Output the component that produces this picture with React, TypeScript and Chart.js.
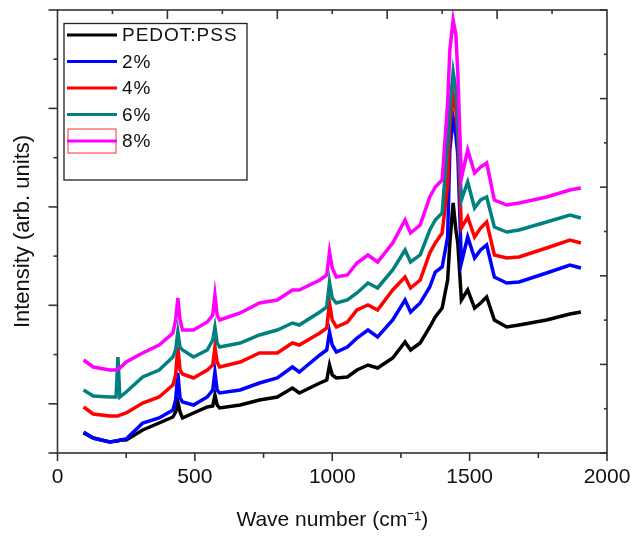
import React, { useEffect, useRef } from 'react';
import { Chart, registerables } from 'chart.js';

Chart.register(...registerables);

// ---- data (intensity in arbitrary units) ----
const WAVENUMBER = [95, 130, 190, 213, 220, 227, 250, 310, 370, 420, 430, 438, 446, 455, 495, 545, 565, 573, 581, 590, 665, 735, 800, 855, 880, 955, 980, 990, 1000, 1015, 1055, 1090, 1130, 1165, 1220, 1265, 1285, 1320, 1355, 1375, 1400, 1420, 1428, 1440, 1450, 1457, 1470, 1493, 1518, 1540, 1562, 1590, 1635, 1680, 1780, 1865, 1905];

const PEDOT_PSS = [20, 15, 11, 12, 12, 13, 13, 23, 30, 36, 41, 51, 41, 35, 40, 46, 47, 58, 48, 45, 48, 53, 56, 65, 60, 70, 73, 88, 78, 75, 76, 83, 88, 85, 95, 111, 103, 110, 126, 136, 145, 173, 210, 250, 223, 210, 153, 163, 145, 150, 156, 133, 126, 128, 133, 139, 141];
const DOPED_2 = [21, 15, 11, 12, 12, 13, 14, 30, 35, 43, 53, 80, 55, 51, 48, 56, 63, 81, 63, 60, 63, 70, 75, 86, 81, 98, 103, 121, 108, 101, 106, 115, 123, 116, 133, 153, 141, 150, 166, 181, 186, 216, 303, 335, 318, 298, 190, 216, 195, 203, 208, 176, 170, 171, 180, 188, 185];
const DOPED_4 = [46, 39, 37, 37, 37, 38, 40, 50, 56, 68, 78, 106, 83, 79, 75, 83, 88, 106, 91, 86, 91, 100, 100, 110, 108, 120, 125, 150, 133, 126, 131, 143, 148, 143, 163, 176, 165, 173, 200, 210, 220, 268, 328, 358, 343, 318, 225, 236, 216, 225, 231, 198, 195, 196, 205, 213, 210];
const DOPED_6 = [63, 57, 56, 56, 96, 56, 61, 76, 83, 96, 103, 121, 106, 103, 96, 103, 113, 126, 110, 106, 110, 118, 123, 130, 128, 141, 146, 171, 155, 150, 153, 160, 170, 165, 183, 203, 191, 198, 223, 233, 240, 310, 345, 381, 363, 328, 253, 271, 245, 253, 256, 226, 221, 223, 231, 238, 235];
const DOPED_8 = [93, 86, 83, 83, 84, 85, 91, 100, 108, 120, 133, 155, 133, 123, 123, 131, 138, 158, 138, 133, 140, 150, 153, 163, 163, 173, 178, 201, 185, 176, 178, 190, 198, 191, 210, 233, 220, 228, 256, 266, 273, 350, 403, 433, 418, 380, 275, 303, 280, 286, 290, 253, 248, 250, 256, 263, 265];

const SERIES_LABELS = ['PEDOT:PSS', '2%', '4%', '6%', '8%'];
const SERIES_COLORS = ['#000000', '#0000ff', '#ff0000', '#008080', '#ff00ff'];

// ---- axes ----
const X_MIN = 0;
const X_MAX = 2000;
const X_LABEL_STEP = 500;
const X_BOTTOM_TICKS = [0, 250, 500, 750, 1000, 1250, 1500, 1750, 2000];
const X_TOP_TICKS = [200, 400, 600, 800, 1000, 1200, 1400, 1600, 1800];
const Y_MIN = 0;
const Y_MAX = 443;
const Y_LEFT_TICKS = [0, 49.2, 98.4, 147.7, 196.9, 246.1, 295.3, 344.6, 393.8, 443];
const Y_RIGHT_TICKS = [0, 44.3, 88.6, 132.9, 177.2, 221.5, 265.8, 310.1, 354.4, 398.7, 443];

const X_TITLE = 'Wave number (cm\u207B\u00B9)';
const Y_TITLE = 'Intensity (arb. units)';
const FONT = '"Liberation Sans", Arial, sans-serif';

const frameAndLegend = {
  id: 'frameAndLegend',
  afterDraw(chart: any) {
    const { ctx, chartArea } = chart;
    const { left, right, top, bottom } = chartArea;
    const xs = chart.scales.x;
    const ys = chart.scales.y;
    ctx.save();
    ctx.strokeStyle = '#333333';
    ctx.lineWidth = 1.6;
    const seg = (x1: number, y1: number, x2: number, y2: number) => {
      ctx.beginPath();
      ctx.moveTo(x1, y1);
      ctx.lineTo(x2, y2);
      ctx.stroke();
    };
    ctx.strokeRect(left, top, right - left, bottom - top);
    // bottom ticks (outward)
    X_BOTTOM_TICKS.forEach((v) => {
      const px = xs.getPixelForValue(v);
      seg(px, bottom, px, bottom + (v % X_LABEL_STEP === 0 ? 8 : 5));
    });
    // top ticks (inward)
    X_TOP_TICKS.forEach((v) => {
      const px = xs.getPixelForValue(v);
      seg(px, top, px, top + (v % 400 === 0 ? 9 : 4));
    });
    // left ticks (outward)
    Y_LEFT_TICKS.forEach((v, i) => {
      const py = ys.getPixelForValue(v);
      const len = i === 0 || i % 2 === 1 ? 9 : 4;
      seg(left - len, py, left, py);
    });
    // right ticks (inward)
    Y_RIGHT_TICKS.forEach((v, i) => {
      const py = ys.getPixelForValue(v);
      const len = i % 2 === 0 ? 7 : 3;
      seg(right - len, py, right, py);
    });

    // legend
    const bx = left + 6.5;
    const by = top + 13.5;
    ctx.lineWidth = 1.3;
    ctx.strokeStyle = '#222222';
    ctx.strokeRect(bx, by, 183, 156.5);
    ctx.font = '19px ' + FONT;
    (ctx as any).letterSpacing = '1px';
    ctx.textBaseline = 'middle';
    ctx.textAlign = 'left';
    ctx.fillStyle = '#111111';
    chart.data.datasets.forEach((ds: any, i: number) => {
      const ry = top + 25 + i * 26.5;
      if (i === 4) {
        ctx.lineWidth = 1;
        ctx.strokeStyle = '#ff3030';
        ctx.strokeRect(left + 10.5, ry - 12, 48, 24);
      }
      ctx.lineWidth = 3;
      ctx.strokeStyle = ds.borderColor;
      seg(left + 9.5, ry, left + 59.5, ry);
      ctx.fillText(ds.label, left + 64.5, ry + 1);
    });
    ctx.restore();
  },
};

export default function App() {
  const ref = useRef<HTMLCanvasElement>(null);
  useEffect(() => {
    const series = [PEDOT_PSS, DOPED_2, DOPED_4, DOPED_6, DOPED_8];
    const chart = new Chart(ref.current as HTMLCanvasElement, {
      type: 'line',
      data: {
        datasets: series.map((vals, i) => ({
          label: SERIES_LABELS[i],
          data: WAVENUMBER.map((w, j) => ({ x: w, y: vals[j] })),
          borderColor: SERIES_COLORS[i],
          backgroundColor: SERIES_COLORS[i],
          borderWidth: 3.5,
          pointRadius: 0,
          tension: 0,
          fill: false,
          order: 5 - i,
        })),
      },
      options: {
        responsive: false,
        animation: false,
        devicePixelRatio: 1,
        layout: { padding: { left: 0, right: 26, top: 10, bottom: 0 } },
        plugins: { legend: { display: false }, tooltip: { enabled: false } },
        scales: {
          x: {
            type: 'linear',
            position: 'bottom',
            min: X_MIN,
            max: X_MAX,
            ticks: {
              stepSize: X_LABEL_STEP,
              padding: 2,
              color: '#111111',
              maxRotation: 0,
              autoSkip: false,
              font: { family: FONT, size: 21 },
              callback: (v: any) => String(v),
            },
            grid: { display: false, drawTicks: true, tickLength: 9.4 },
            border: { display: false },
            title: { display: true, text: X_TITLE, color: '#111111', font: { family: FONT, size: 21 }, padding: { top: 15.8, bottom: 4.4 } },
          },
          y: {
            type: 'linear',
            min: Y_MIN,
            max: Y_MAX,
            ticks: { display: false },
            grid: { display: false, drawTicks: false },
            border: { display: false },
            title: { display: true, text: Y_TITLE, color: '#111111', font: { family: FONT, size: 22 }, padding: { top: 9.8, bottom: 21.3 } },
          },
        },
      },
      plugins: [frameAndLegend],
    } as any);
    return () => chart.destroy();
  }, []);
  return (
    <div style={{ position: 'fixed', left: 0, top: 0, width: 633, height: 537, background: '#ffffff' }}>
      <canvas ref={ref} width={633} height={537} style={{ display: 'block', width: 633, height: 537 }} />
    </div>
  );
}
